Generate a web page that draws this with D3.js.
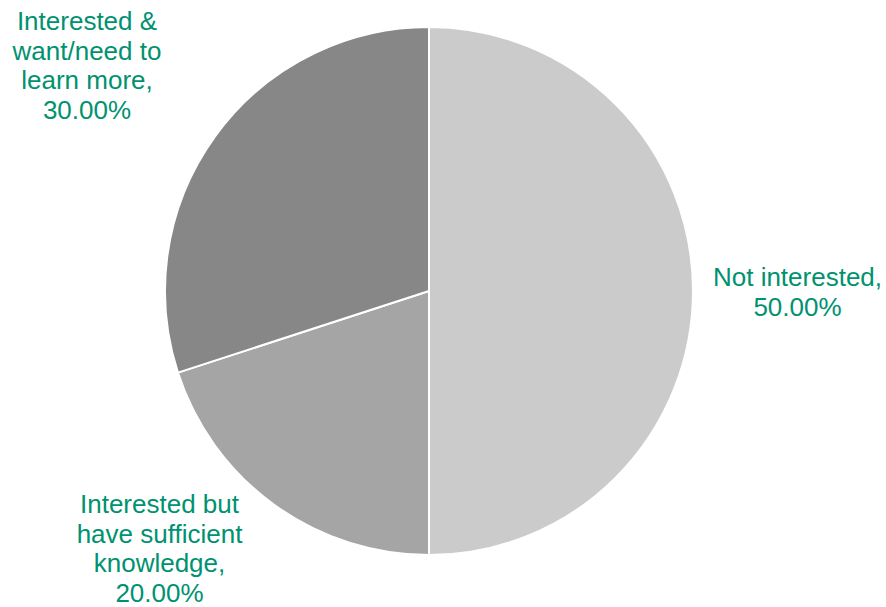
<!DOCTYPE html>
<html>
<head>
<meta charset="utf-8">
<script src="https://cdn.jsdelivr.net/npm/d3@7"></script>
<style>
  html, body { margin: 0; padding: 0; background: #ffffff; }
  svg { display: block; }
</style>
</head>
<body>
<svg id="chart" width="886" height="607"></svg>
<script>
// Survey responses: interest in learning more
const categories = [
  "Not interested",
  "Interested but have sufficient knowledge",
  "Interested & want/need to learn more"
];
const values = [50, 20, 30];
const sliceColors = ["#cbcbcb", "#a5a5a5", "#878787"];
// Label text, broken into lines as drawn
const labelLines = [
  ["Not interested,", "50.00%"],
  ["Interested but", "have sufficient", "knowledge,", "20.00%"],
  ["Interested &", "want/need to", "learn more,", "30.00%"]
];
// Label anchor (centre x, first baseline y)
const labelPos = [
  [797.5, 286],
  [159.5, 513],
  [87, 30]
];

const svg = d3.select("#chart");
const cx = 429, cy = 291, radius = 264;
const lineHeight = 29.6;

const pie = d3.pie().sort(null).value(d => d)(values);
const arc = d3.arc().innerRadius(0).outerRadius(radius);
const color = d3.scaleOrdinal().domain(categories).range(sliceColors);

const g = svg.append("g").attr("transform", `translate(${cx},${cy})`);
g.selectAll("path")
  .data(pie)
  .join("path")
  .attr("d", arc)
  .attr("fill", (d, i) => color(categories[i]))
  .attr("stroke", "#ffffff")
  .attr("stroke-width", 2)
  .attr("stroke-linejoin", "round");

const labels = svg.selectAll("text.label")
  .data(labelLines)
  .join("text")
  .attr("class", "label")
  .attr("text-anchor", "middle")
  .attr("font-family", "'Liberation Sans', Arial, sans-serif")
  .attr("font-size", 26)
  .attr("fill", "#009270");

labels.selectAll("tspan")
  .data((d, i) => d.map((t, j) => ({ t, j, i })))
  .join("tspan")
  .attr("x", d => labelPos[d.i][0])
  .attr("y", d => labelPos[d.i][1] + d.j * lineHeight)
  .text(d => d.t);
</script>
</body>
</html>
